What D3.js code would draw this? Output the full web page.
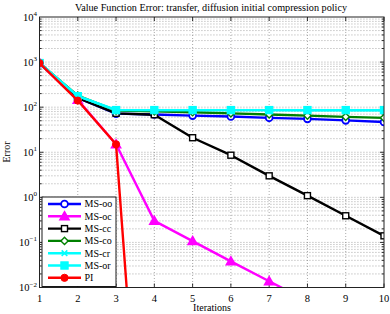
<!DOCTYPE html>
<html>
<head>
<meta charset="utf-8">
<script src="https://cdn.jsdelivr.net/npm/d3@7"></script>
<style>
  body { margin: 0; background: #fff; }
  svg text { font-family: "Liberation Serif", "DejaVu Serif", serif; }
</style>
</head>
<body>
<svg id="chart" width="390" height="314"></svg>
<script>
// data
const iterations = [1, 2, 3, 4, 5, 6, 7, 8, 9, 10];
const msOO = [950, 160, 72, 69, 65, 62, 58, 55, 51, 47];
const msOC = [950, 145, 15, 0.3, 0.107, 0.038, 0.0138, 0.005, 0.0018, 0.0006];
const msCC = [950, 160, 73, 68, 21, 8.6, 3.0, 1.09, 0.39, 0.14];
const msCO = [950, 180, 84, 81, 77, 73, 69, 65, 61, 58];
const msCR = [950, 175, 87, 86, 86, 86, 86, 85, 85, 85];
const msOR = [950, 175, 86, 86, 86, 86, 86, 86, 86, 86];
const pi = [950, 140, 15, 5e-11];
const yTicks = [1e-2, 1e-1, 1e0, 1e1, 1e2, 1e3, 1e4];
const yTickExp = ["−2", "−1", "0", "1", "2", "3", "4"];

const series = [
  { name: "MS-oo", values: msOO, color: "#0000ff", marker: "circle" },
  { name: "MS-oc", values: msOC, color: "#ff00ff", marker: "triangle" },
  { name: "MS-cc", values: msCC, color: "#000000", marker: "square" },
  { name: "MS-co", values: msCO, color: "#008000", marker: "diamond" },
  { name: "MS-cr", values: msCR, color: "#00ffff", marker: "x" },
  { name: "MS-or", values: msOR, color: "#00ffff", marker: "bigsquare" },
  { name: "PI", values: pi, color: "#ff0000", marker: "dot" }
];

const svg = d3.select("#chart");
const mLeft = 39.5, mRight = 384, mTop = 17, mBottom = 287.5;

const x = d3.scaleLinear().domain([1, 10]).range([mLeft, mRight]);
const y = d3.scaleLog().domain([1e-2, 1e4]).range([mBottom, mTop]);

// clip for the data
svg.append("defs").append("clipPath").attr("id", "plot-clip")
  .append("rect")
  .attr("x", mLeft).attr("y", mTop)
  .attr("width", mRight - mLeft).attr("height", mBottom - mTop);

// grid
const grid = svg.append("g").attr("stroke", "#777").attr("stroke-width", 0.7)
  .attr("stroke-dasharray", "0.9,2.1");

iterations.slice(1, -1).forEach(v => {
  grid.append("line")
    .attr("x1", x(v)).attr("x2", x(v))
    .attr("y1", mTop).attr("y2", mBottom);
});

const minorVals = [];
for (let e = -2; e < 4; e++) {
  for (let m = 1; m < 10; m++) {
    if (m === 1 && e === -2) continue;
    minorVals.push(m * Math.pow(10, e));
  }
}
minorVals.forEach(v => {
  grid.append("line")
    .attr("x1", mLeft).attr("x2", mRight)
    .attr("y1", y(v)).attr("y2", y(v));
});

// axes with ticks
const axisG = svg.append("g").attr("stroke", "#000").attr("stroke-width", 0.8);
minorVals.forEach(v => {
  const isMajor = yTicks.includes(v);
  const len = isMajor ? 4 : 2.2;
  axisG.append("line").attr("x1", mLeft).attr("x2", mLeft + len).attr("y1", y(v)).attr("y2", y(v));
  axisG.append("line").attr("x1", mRight).attr("x2", mRight - len).attr("y1", y(v)).attr("y2", y(v));
});
iterations.forEach(v => {
  axisG.append("line").attr("x1", x(v)).attr("x2", x(v)).attr("y1", mBottom).attr("y2", mBottom - 4);
  axisG.append("line").attr("x1", x(v)).attr("x2", x(v)).attr("y1", mTop).attr("y2", mTop + 4);
});

// data lines
const plot = svg.append("g").attr("clip-path", "url(#plot-clip)");
const line = d3.line()
  .x((d, i) => x(iterations[i]))
  .y(d => y(d));

function drawMarker(g, type, color, cx, cy) {
  if (type === "circle") {
    g.append("circle").attr("cx", cx).attr("cy", cy).attr("r", 3.4)
      .attr("fill", "#fff").attr("stroke", color).attr("stroke-width", 1.8);
  } else if (type === "triangle") {
    const s = 4.6;
    g.append("path")
      .attr("d", `M${cx},${cy - s}L${cx + s},${cy + s * 0.75}L${cx - s},${cy + s * 0.75}Z`)
      .attr("fill", color).attr("stroke", color).attr("stroke-width", 1.5);
  } else if (type === "square") {
    g.append("rect").attr("x", cx - 3).attr("y", cy - 3).attr("width", 6).attr("height", 6)
      .attr("fill", "#fff").attr("stroke", color).attr("stroke-width", 1.4);
  } else if (type === "diamond") {
    const s = 3.6;
    g.append("path")
      .attr("d", `M${cx},${cy - s}L${cx + s},${cy}L${cx},${cy + s}L${cx - s},${cy}Z`)
      .attr("fill", "#fff").attr("stroke", color).attr("stroke-width", 1.4);
  } else if (type === "x") {
    const s = 2.8;
    g.append("path")
      .attr("d", `M${cx - s},${cy - s}L${cx + s},${cy + s}M${cx - s},${cy + s}L${cx + s},${cy - s}`)
      .attr("stroke", color).attr("stroke-width", 1.6);
  } else if (type === "bigsquare") {
    g.append("rect").attr("x", cx - 3.6).attr("y", cy - 3.6).attr("width", 7.2).attr("height", 7.2)
      .attr("fill", color).attr("stroke", color).attr("stroke-width", 1.2);
  } else if (type === "dot") {
    g.append("circle").attr("cx", cx).attr("cy", cy).attr("r", 3.6)
      .attr("fill", color).attr("stroke", color).attr("stroke-width", 1);
  }
}

series.forEach(s => {
  plot.append("path")
    .datum(s.values)
    .attr("fill", "none")
    .attr("stroke", s.color)
    .attr("stroke-width", 2.4)
    .attr("stroke-linejoin", "round")
    .attr("d", line);
  const mg = plot.append("g");
  s.values.forEach((v, i) => {
    const cy = y(v);
    if (cy > mBottom + 10) return;
    drawMarker(mg, s.marker, s.color, x(iterations[i]), cy);
  });
});

// box
svg.append("rect")
  .attr("x", mLeft).attr("y", mTop)
  .attr("width", mRight - mLeft).attr("height", mBottom - mTop)
  .attr("fill", "none").attr("stroke", "#222").attr("stroke-width", 1);

// tick labels
iterations.forEach(v => {
  svg.append("text")
    .attr("x", x(v)).attr("y", 302)
    .attr("text-anchor", "middle")
    .attr("font-size", 10.5)
    .text(v);
});
yTicks.forEach((v, i) => {
  const t = svg.append("text")
    .attr("x", 37).attr("y", y(v) + 3.5)
    .attr("text-anchor", "end")
    .attr("font-size", 10.5);
  t.append("tspan").text("10");
  t.append("tspan").attr("dy", -4.5).attr("font-size", 7).text(yTickExp[i]);
});

// titles
svg.append("text")
  .attr("x", 211).attr("y", 11)
  .attr("text-anchor", "middle")
  .attr("font-size", 10.2)
  .text("Value Function Error: transfer, diffusion initial compression policy");

svg.append("text")
  .attr("x", 212).attr("y", 311)
  .attr("text-anchor", "middle")
  .attr("font-size", 10)
  .text("Iterations");

svg.append("text")
  .attr("transform", "translate(10,152) rotate(-90)")
  .attr("text-anchor", "middle")
  .attr("font-size", 10)
  .text("Error");

// legend
const legend = svg.append("g");
legend.append("rect")
  .attr("x", 42).attr("y", 197)
  .attr("width", 74).attr("height", 89.5)
  .attr("fill", "#fff").attr("stroke", "#000").attr("stroke-width", 0.9);

series.forEach((s, i) => {
  const ly = 204 + i * 12.3;
  legend.append("line")
    .attr("x1", 48).attr("x2", 81)
    .attr("y1", ly).attr("y2", ly)
    .attr("stroke", s.color).attr("stroke-width", 2.4);
  drawMarker(legend, s.marker, s.color, 64.5, ly);
  legend.append("text")
    .attr("x", 84.5).attr("y", ly + 3.4)
    .attr("font-size", 10)
    .text(s.name);
});
</script>
</body>
</html>
